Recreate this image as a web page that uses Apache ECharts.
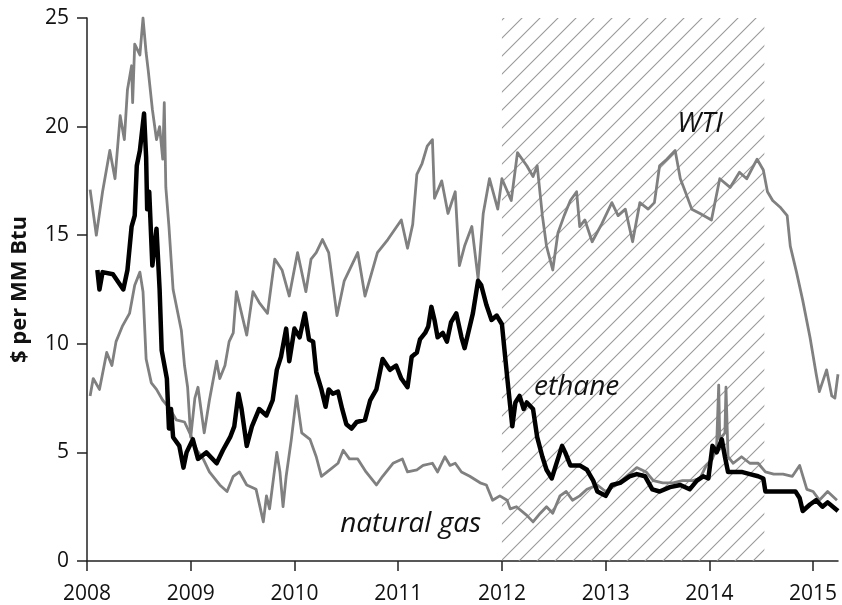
<!DOCTYPE html>
<html>
<head>
<meta charset="utf-8">
<script src="https://cdn.jsdelivr.net/npm/echarts@6/dist/echarts.min.js"></script>
<style>
  html, body { margin: 0; padding: 0; background: #fff; }
  #main { width: 842px; height: 605px; }
</style>
</head>
<body>
<div id="main"></div>
<script>
// prices in $ per MM Btu, x = decimal year
var wti = [
  [2008.03,17.1],[2008.09,15.0],[2008.15,17.0],[2008.22,18.9],[2008.27,17.6],[2008.32,20.5],[2008.36,19.4],
  [2008.39,21.7],[2008.43,22.8],[2008.44,21.1],[2008.46,23.8],[2008.51,23.3],[2008.54,25.0],[2008.57,23.4],
  [2008.59,22.6],[2008.63,20.8],[2008.67,19.4],[2008.70,20.0],[2008.73,18.5],[2008.745,21.1],[2008.76,17.2],
  [2008.79,15.4],[2008.83,12.5],[2008.91,10.6],[2008.94,9.0],[2008.97,8.0],[2009.0,5.7],[2009.04,7.5],
  [2009.07,8.0],[2009.13,5.9],[2009.18,7.4],[2009.25,9.2],[2009.28,8.4],[2009.33,9.0],[2009.37,10.1],
  [2009.41,10.5],[2009.44,12.4],[2009.54,10.4],[2009.60,12.4],[2009.66,11.9],[2009.74,11.4],[2009.81,13.9],
  [2009.88,13.4],[2009.95,12.2],[2010.03,14.2],[2010.11,12.4],[2010.16,13.9],[2010.21,14.2],[2010.27,14.8],
  [2010.33,14.2],[2010.41,11.3],[2010.48,12.9],[2010.61,14.2],[2010.68,12.2],[2010.80,14.2],[2010.90,14.8],
  [2011.03,15.7],[2011.09,14.4],[2011.14,15.5],[2011.18,17.8],[2011.23,18.3],[2011.28,19.1],[2011.33,19.4],
  [2011.35,16.7],[2011.42,17.5],[2011.48,16.0],[2011.55,17.0],[2011.59,13.6],[2011.64,14.5],[2011.71,15.4],
  [2011.77,13.0],[2011.82,16.0],[2011.88,17.6],[2011.96,16.2],[2012.0,17.6],[2012.09,16.6],[2012.15,18.8],
  [2012.24,18.2],[2012.30,17.7],[2012.34,18.2],[2012.39,15.9],[2012.43,14.5],[2012.49,13.4],[2012.54,15.1],
  [2012.60,15.9],[2012.66,16.6],[2012.72,17.0],[2012.75,15.4],[2012.80,15.7],[2012.87,14.7],[2012.96,15.5],
  [2013.06,16.5],[2013.12,15.9],[2013.19,16.2],[2013.26,14.7],[2013.33,16.5],[2013.41,16.2],[2013.47,16.5],
  [2013.52,18.2],[2013.59,18.5],[2013.67,18.9],[2013.72,17.6],[2013.76,17.1],[2013.83,16.2],[2013.91,16.0],
  [2014.02,15.7],[2014.10,17.6],[2014.20,17.2],[2014.29,17.9],[2014.36,17.6],[2014.46,18.5],[2014.52,18.0],
  [2014.56,17.0],[2014.61,16.6],[2014.68,16.3],[2014.75,15.9],[2014.78,14.5],[2014.84,13.3],[2014.90,12.0],
  [2014.97,10.3],[2015.03,8.6],[2015.06,7.8],[2015.13,8.8],[2015.18,7.6],[2015.21,7.5],[2015.24,8.6]
];

var ethane = [
  [2008.10,13.4],[2008.12,12.5],[2008.15,13.3],[2008.25,13.2],[2008.35,12.5],[2008.39,13.4],[2008.43,15.4],
  [2008.46,15.9],[2008.48,18.2],[2008.51,18.9],[2008.55,20.6],[2008.57,18.6],[2008.58,16.2],[2008.60,17.0],
  [2008.63,13.6],[2008.67,15.3],[2008.70,12.5],[2008.72,9.7],[2008.77,8.4],[2008.79,6.1],[2008.81,7.0],
  [2008.83,5.7],[2008.89,5.3],[2008.93,4.3],[2008.96,5.0],[2009.02,5.6],[2009.07,4.7],[2009.15,5.0],
  [2009.25,4.5],[2009.31,5.1],[2009.38,5.7],[2009.42,6.2],[2009.46,7.7],[2009.49,7.0],[2009.54,5.3],
  [2009.59,6.2],[2009.66,7.0],[2009.73,6.7],[2009.79,7.4],[2009.83,8.8],[2009.87,9.4],[2009.92,10.7],
  [2009.95,9.2],[2010.0,10.7],[2010.05,10.3],[2010.10,11.4],[2010.14,10.2],[2010.18,10.1],[2010.21,8.7],
  [2010.26,7.9],[2010.30,7.1],[2010.33,7.9],[2010.37,7.7],[2010.42,7.8],[2010.46,7.0],[2010.50,6.3],
  [2010.55,6.1],[2010.60,6.4],[2010.68,6.5],[2010.73,7.4],[2010.79,7.9],[2010.85,9.3],[2010.92,8.8],
  [2010.98,9.0],[2011.03,8.4],[2011.09,8.0],[2011.13,9.4],[2011.18,9.6],[2011.21,10.2],[2011.26,10.5],
  [2011.29,10.8],[2011.32,11.7],[2011.35,11.1],[2011.38,10.3],[2011.43,10.5],[2011.47,10.1],[2011.51,11.0],
  [2011.56,11.4],[2011.61,10.3],[2011.64,9.8],[2011.69,10.8],[2011.72,11.4],[2011.77,12.9],[2011.80,12.7],
  [2011.85,11.8],[2011.90,11.1],[2011.95,11.3],[2012.0,10.9],[2012.05,8.5],[2012.10,6.2],[2012.13,7.3],
  [2012.17,7.6],[2012.21,7.0],[2012.24,7.3],[2012.30,7.0],[2012.34,5.7],[2012.39,4.8],[2012.43,4.2],
  [2012.48,3.8],[2012.52,4.4],[2012.58,5.3],[2012.61,5.0],[2012.66,4.4],[2012.75,4.4],[2012.82,4.2],
  [2012.88,3.7],[2012.92,3.2],[2013.0,3.0],[2013.06,3.5],[2013.14,3.6],[2013.23,3.9],[2013.30,4.0],
  [2013.38,3.9],[2013.45,3.3],[2013.52,3.2],[2013.62,3.4],[2013.72,3.5],[2013.81,3.3],[2013.88,3.7],
  [2013.94,3.9],[2013.99,3.8],[2014.03,5.3],[2014.07,5.0],[2014.12,5.6],[2014.15,4.8],[2014.18,4.1],
  [2014.25,4.1],[2014.31,4.1],[2014.39,4.0],[2014.47,3.9],[2014.52,3.8],[2014.54,3.2],[2014.62,3.2],
  [2014.75,3.2],[2014.83,3.2],[2014.87,2.9],[2014.90,2.3],[2014.97,2.6],[2015.03,2.8],[2015.09,2.5],
  [2015.14,2.7],[2015.24,2.3]
];

var natGas = [
  [2008.03,7.6],[2008.06,8.4],[2008.12,7.9],[2008.19,9.6],[2008.24,9.0],[2008.28,10.1],[2008.34,10.8],
  [2008.41,11.4],[2008.46,12.7],[2008.51,13.3],[2008.54,12.4],[2008.57,9.3],[2008.62,8.2],[2008.67,7.9],
  [2008.73,7.4],[2008.80,7.0],[2008.86,6.5],[2008.94,6.4],[2008.99,5.9],[2009.06,5.1],[2009.12,4.7],
  [2009.18,4.1],[2009.28,3.5],[2009.35,3.2],[2009.41,3.9],[2009.47,4.1],[2009.54,3.5],[2009.63,3.3],
  [2009.70,1.8],[2009.73,3.0],[2009.76,2.4],[2009.83,5.0],[2009.86,4.1],[2009.89,2.5],[2009.92,3.9],
  [2009.97,5.6],[2010.02,7.6],[2010.07,5.9],[2010.15,5.6],[2010.21,4.8],[2010.26,3.9],[2010.34,4.2],
  [2010.42,4.5],[2010.47,5.1],[2010.53,4.7],[2010.61,4.7],[2010.69,4.1],[2010.79,3.5],[2010.85,3.9],
  [2010.95,4.5],[2011.04,4.7],[2011.09,4.1],[2011.18,4.2],[2011.24,4.4],[2011.33,4.5],[2011.38,4.1],
  [2011.45,4.8],[2011.50,4.4],[2011.55,4.5],[2011.61,4.1],[2011.69,3.9],[2011.79,3.6],[2011.85,3.5],
  [2011.91,2.8],[2011.98,3.0],[2012.05,2.8],[2012.08,2.4],[2012.14,2.5],[2012.24,2.1],[2012.30,1.8],
  [2012.37,2.2],[2012.43,2.5],[2012.49,2.2],[2012.56,3.0],[2012.62,3.2],[2012.68,2.8],[2012.75,3.0],
  [2012.82,3.3],[2012.92,3.5],[2013.0,3.2],[2013.10,3.5],[2013.20,3.9],[2013.30,4.3],[2013.39,4.1],
  [2013.46,3.7],[2013.55,3.6],[2013.65,3.6],[2013.74,3.7],[2013.84,3.7],[2013.91,3.8],[2013.97,4.4],
  [2014.03,4.7],[2014.07,5.3],[2014.09,8.1],[2014.10,5.6],[2014.15,5.9],[2014.16,8.0],[2014.18,4.8],
  [2014.23,4.5],[2014.31,4.8],[2014.39,4.5],[2014.47,4.5],[2014.54,4.1],[2014.62,4.0],[2014.71,4.0],
  [2014.80,3.9],[2014.87,4.4],[2014.94,3.3],[2015.0,3.2],[2015.06,2.8],[2015.14,3.2],[2015.23,2.8]
];

// hatched period
var shadeRange = [2012, 2014.53];

// in-chart labels: [text, year, value]
var wtiLabel = ['WTI', 2013.91, 20.1];
var ethaneLabel = ['ethane', 2012.72, 8.0];
var gasLabel = ['natural gas', 2011.12, 1.7];

// diagonal hatch pattern
function hatch() {
  var s = 18;
  var c = document.createElement('canvas');
  c.width = s; c.height = s;
  var ctx = c.getContext('2d');
  ctx.strokeStyle = '#9a9a9a';
  ctx.lineWidth = 1.1;
  ctx.beginPath();
  ctx.moveTo(0, s); ctx.lineTo(s, 0);
  ctx.moveTo(-2, 2); ctx.lineTo(2, -2);
  ctx.moveTo(s - 2, s + 2); ctx.lineTo(s + 2, s - 2);
  ctx.stroke();
  return c;
}

function textPoint(l) {
  return {
    coord: [l[1], l[2]],
    symbolSize: 0,
    label: {
      show: true, position: 'inside', formatter: l[0],
      fontFamily: 'Open Sans', fontStyle: 'italic', fontSize: 28, color: '#111'
    }
  };
}

var mychart = echarts.init(document.getElementById('main'));

var option = {
  animation: false,
  grid: { left: 87, right: 4, top: 18, bottom: 43 },
  xAxis: {
    type: 'value', min: 2008, max: 2015.24, interval: 1,
    axisLine: { lineStyle: { color: '#222', width: 1.5 } },
    axisTick: { length: 10, lineStyle: { color: '#222', width: 1.5 } },
    axisLabel: {
      margin: 23, fontFamily: 'Open Sans', fontSize: 21, color: '#111',
      formatter: function (v) { return String(v); }
    },
    splitLine: { show: false }
  },
  yAxis: {
    type: 'value', min: 0, max: 25, interval: 5,
    name: '$ per MM Btu', nameLocation: 'middle', nameGap: 56,
    nameTextStyle: { fontFamily: 'Open Sans', fontWeight: 'bold', fontSize: 22, color: '#111' },
    axisLine: { show: true, lineStyle: { color: '#222', width: 1.5 } },
    axisTick: { show: true, length: 10, lineStyle: { color: '#222', width: 1.5 } },
    axisLabel: { margin: 18, fontFamily: 'Open Sans', fontSize: 21, color: '#111' },
    splitLine: { show: false }
  },
  series: [
    {
      name: 'WTI', type: 'line', data: wti, showSymbol: false, z: 2,
      lineStyle: { color: '#808080', width: 2.8, join: 'round' },
      markArea: {
        silent: true,
        itemStyle: { color: { image: hatch(), repeat: 'repeat' } },
        data: [[{ xAxis: shadeRange[0], yAxis: 0 }, { xAxis: shadeRange[1], yAxis: 25 }]]
      },
      markPoint: { symbol: 'circle', silent: true, data: [textPoint(wtiLabel)] }
    },
    {
      name: 'natural gas', type: 'line', data: natGas, showSymbol: false, z: 3,
      lineStyle: { color: '#808080', width: 2.8, join: 'round' },
      markPoint: { symbol: 'circle', silent: true, data: [textPoint(gasLabel)] }
    },
    {
      name: 'ethane', type: 'line', data: ethane, showSymbol: false, z: 4,
      lineStyle: { color: '#000', width: 4.5, join: 'round' },
      markPoint: { symbol: 'circle', silent: true, data: [textPoint(ethaneLabel)] }
    }
  ]
};

mychart.setOption(option);
</script>
</body>
</html>
